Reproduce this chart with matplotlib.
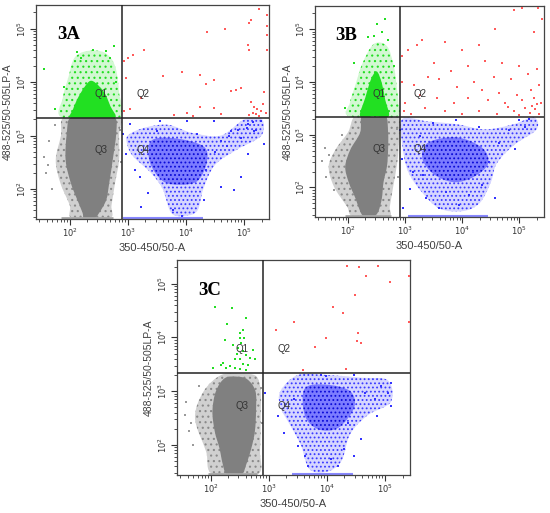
import numpy as np
import matplotlib
matplotlib.use('Agg')
import matplotlib.pyplot as plt
from matplotlib.path import Path
from matplotlib.patches import PathPatch, Rectangle
from matplotlib.ticker import LogLocator, NullFormatter, FixedLocator

plt.rcParams['font.family'] = ['Liberation Sans', 'DejaVu Sans']
plt.rcParams['hatch.linewidth'] = 0.8

# All coordinates below are log10 of the channel values.
# x: 350-450/50-A, y: 488-525/50-505LP-A
X_LIM = (1.42, 5.43)
Y_LIM = (1.44, 5.44)
GATE_X = 2.90
GATE_Y = 3.33

# ---------------- panel 3A ----------------
a_gray_core = [(2.02, 3.34), (2.40, 3.34), (2.77, 3.34), (2.80, 3.04), (2.74, 2.54),
               (2.68, 2.11), (2.63, 1.80), (2.51, 1.56), (2.42, 1.45), (2.25, 1.45),
               (2.22, 1.56), (2.13, 1.80), (2.02, 2.11), (1.93, 2.54), (1.95, 3.04)]
a_gray_halo = [(1.90, 3.34), (2.40, 3.34), (2.86, 3.34), (2.85, 3.00), (2.85, 2.54),
               (2.78, 2.11), (2.72, 1.70), (2.68, 1.45), (2.05, 1.45), (2.00, 1.70),
               (1.84, 2.11), (1.76, 2.54), (1.85, 3.00)]
a_gray_dots = [(1.55, 2.60), (1.60, 2.30), (1.65, 2.90), (1.75, 3.20), (1.70, 2.00),
               (2.88, 2.50), (2.86, 3.10), (1.62, 2.45)]
a_gray_floor = (1.85, 2.74)
a_green_core = [(2.02, 3.33), (2.40, 3.33), (2.78, 3.33), (2.70, 3.55), (2.60, 3.80),
                (2.45, 3.98), (2.35, 4.02), (2.25, 3.90), (2.14, 3.70), (2.06, 3.50)]
a_green_halo = [(1.88, 3.33), (2.85, 3.33), (2.85, 3.80), (2.78, 4.30), (2.60, 4.55),
                (2.30, 4.58), (2.08, 4.45), (1.98, 4.10), (1.88, 3.70)]
a_green_dots = [(1.55, 4.24), (2.13, 4.57), (2.77, 4.67), (1.90, 3.90), (2.80, 4.00),
                (2.70, 4.45), (2.20, 4.45), (1.75, 3.50), (2.40, 4.60), (2.62, 4.58)]
a_red_dots = [(5.26, 5.36), (5.40, 5.25), (5.12, 5.16), (5.09, 5.10), (5.40, 5.04),
              (4.68, 4.99), (4.37, 4.94), (5.40, 4.88), (5.06, 4.70), (5.09, 4.60),
              (5.40, 4.60), (3.28, 4.59), (3.09, 4.50), (3.00, 4.44), (2.93, 4.39),
              (3.60, 4.11), (3.93, 4.19), (4.25, 4.13), (4.34, 3.97), (4.48, 4.04),
              (4.77, 3.83), (4.86, 3.85), (4.94, 3.88), (5.35, 3.82), (2.97, 4.07),
              (3.23, 3.70), (3.03, 3.49), (2.93, 3.45), (4.02, 3.43), (4.25, 3.54),
              (4.48, 3.51), (4.60, 3.40), (3.79, 3.39), (4.13, 3.37), (5.12, 3.62),
              (5.18, 3.54), (5.23, 3.49), (5.29, 3.46), (5.15, 3.43), (5.21, 3.40),
              (5.32, 3.59), (5.38, 3.43), (5.09, 3.39), (5.26, 3.37)]
a_blue_halo = [(3.00, 3.00), (3.30, 3.15), (3.70, 3.20), (4.10, 3.05), (4.60, 3.00),
               (5.00, 3.30), (5.30, 3.32), (5.30, 3.00), (4.90, 2.75), (4.50, 2.45),
               (4.30, 2.00), (4.20, 1.60), (4.00, 1.50), (3.75, 1.55), (3.60, 2.00),
               (3.40, 2.30), (3.10, 2.60), (3.00, 2.80)]
a_blue_core = [(3.40, 2.90), (3.80, 2.95), (4.30, 2.80), (4.36, 2.50), (4.20, 2.15),
               (3.90, 2.08), (3.60, 2.15), (3.38, 2.50)]
a_blue_dots = [(2.91, 3.03), (3.03, 3.22), (3.12, 2.35), (3.23, 1.67), (3.35, 1.92),
               (3.50, 3.09), (3.55, 3.28), (3.78, 1.61), (3.93, 1.49), (4.02, 3.28),
               (4.31, 1.80), (4.48, 3.28), (4.60, 2.04), (4.83, 1.98), (4.77, 3.09),
               (5.06, 2.66), (5.29, 3.28), (5.35, 2.85), (4.94, 2.23), (2.97, 2.66),
               (3.21, 2.23), (4.34, 2.35), (5.18, 3.09), (5.06, 3.22), (4.19, 3.03),
               (4.60, 2.90), (4.75, 3.00), (4.90, 3.10), (5.05, 3.15), (5.15, 3.25),
               (5.20, 3.10), (4.95, 2.95), (4.70, 2.80), (4.50, 2.70)]
a_blue_floor = (2.92, 4.30)

# ---------------- panel 3B ----------------
b_gray_core = [(2.24, 3.36), (2.45, 3.36), (2.66, 3.36), (2.70, 3.04), (2.70, 2.72),
               (2.68, 2.40), (2.62, 2.10), (2.59, 1.79), (2.53, 1.55), (2.45, 1.45),
               (2.28, 1.45), (2.21, 1.55), (2.13, 1.79), (2.01, 2.10), (1.95, 2.40),
               (2.04, 2.72), (2.21, 3.04)]
b_gray_halo = [(2.13, 3.36), (2.50, 3.36), (2.88, 3.36), (2.88, 2.72), (2.85, 2.40),
               (2.79, 2.02), (2.73, 1.64), (2.70, 1.45), (2.10, 1.45), (1.98, 1.64),
               (1.75, 2.02), (1.66, 2.40), (1.78, 2.72), (2.00, 3.05)]
b_gray_dots = [(1.55, 2.50), (1.60, 2.75), (1.62, 2.20), (1.75, 1.95), (2.86, 3.10),
               (2.87, 2.20), (1.90, 3.00), (1.66, 2.62)]
b_gray_floor = (1.95, 2.75)
b_green_core = [(2.21, 3.35), (2.45, 3.35), (2.71, 3.35), (2.65, 3.66), (2.59, 3.98),
                (2.50, 4.20), (2.40, 4.05), (2.30, 3.70)]
b_green_halo = [(2.02, 3.35), (2.88, 3.35), (2.88, 3.60), (2.85, 3.92), (2.80, 4.30),
                (2.68, 4.68), (2.45, 4.72), (2.25, 4.35), (2.12, 3.92), (2.03, 3.60)]
b_green_dots = [(2.65, 5.20), (2.50, 5.10), (2.35, 4.85), (2.70, 4.80), (1.95, 3.50),
                (2.80, 4.30), (2.10, 4.35), (2.60, 4.95), (2.45, 4.88)]
b_red_dots = [(5.32, 5.40), (5.05, 5.40), (4.90, 5.36), (5.40, 5.20), (4.58, 5.00),
              (5.25, 4.95), (4.30, 4.70), (4.00, 4.60), (3.70, 4.75), (3.30, 4.80),
              (3.20, 4.70), (3.05, 4.60), (2.95, 4.50), (3.50, 4.35), (3.80, 4.20),
              (4.10, 4.30), (4.40, 4.40), (4.70, 4.35), (5.00, 4.30), (5.30, 4.25),
              (3.40, 4.10), (3.60, 4.05), (4.20, 4.00), (4.55, 4.10), (4.85, 4.05),
              (5.15, 4.15), (2.95, 4.00), (3.15, 3.95), (3.90, 3.90), (4.35, 3.85),
              (4.65, 3.80), (4.95, 3.75), (5.20, 3.85), (5.35, 3.95), (3.00, 3.60),
              (3.25, 3.75), (3.55, 3.70), (3.85, 3.60), (4.10, 3.70), (4.45, 3.65),
              (4.75, 3.60), (5.05, 3.65), (5.25, 3.70), (5.38, 3.60), (2.98, 3.45),
              (3.35, 3.50), (3.70, 3.45), (4.00, 3.40), (4.30, 3.45), (4.60, 3.40),
              (4.90, 3.45), (5.10, 3.50), (5.18, 3.42), (5.28, 3.48), (5.34, 3.40),
              (5.22, 3.55), (5.00, 3.38), (5.30, 3.58), (4.80, 3.52), (3.10, 3.40)]
b_blue_halo = [(2.95, 3.30), (3.40, 3.25), (3.90, 3.20), (4.40, 3.10), (4.90, 3.20),
               (5.25, 3.33), (5.30, 3.10), (4.90, 2.80), (4.60, 2.45), (4.50, 2.10),
               (4.30, 1.70), (4.00, 1.55), (3.60, 1.60), (3.30, 1.90), (3.05, 2.30),
               (2.95, 2.80)]
b_blue_core = [(3.40, 2.85), (3.90, 2.95), (4.35, 2.75), (4.45, 2.45), (4.20, 2.20),
               (3.85, 2.10), (3.50, 2.25), (3.30, 2.55)]
b_blue_dots = [(2.91, 3.09), (2.94, 2.54), (2.96, 1.61), (3.08, 1.98), (3.25, 2.97),
               (3.14, 2.29), (3.37, 1.80), (3.48, 3.22), (3.60, 1.61), (3.72, 1.92),
               (3.89, 3.28), (3.95, 1.67), (4.12, 1.86), (4.29, 3.15), (4.35, 2.04),
               (4.47, 2.48), (4.64, 2.85), (4.81, 3.09), (4.99, 3.28), (5.10, 3.15),
               (5.16, 3.30), (4.93, 2.72), (4.18, 2.29), (3.31, 2.23), (4.58, 1.80)]
b_blue_floor = (3.05, 4.45)

# ---------------- panel 3C ----------------
c_gray_core = [(2.24, 3.24), (2.45, 3.27), (2.63, 3.22), (2.77, 3.00), (2.78, 2.63),
               (2.76, 2.25), (2.70, 1.94), (2.61, 1.63), (2.53, 1.45), (2.28, 1.45),
               (2.21, 1.63), (2.15, 1.94), (2.07, 2.25), (2.03, 2.63), (2.09, 3.00)]
c_gray_halo = [(2.18, 3.30), (2.50, 3.32), (2.78, 3.28), (2.86, 3.00), (2.86, 2.50),
               (2.85, 1.88), (2.80, 1.45), (2.04, 1.45), (1.92, 1.88), (1.73, 2.50),
               (1.88, 3.00)]
c_gray_dots = [(1.55, 2.55), (1.62, 2.25), (1.58, 2.80), (1.70, 2.00), (1.80, 3.10),
               (2.88, 2.40), (2.87, 3.05), (1.66, 2.40)]
c_gray_floor = (1.95, 2.80)
c_green_dots = [(2.07, 4.56), (2.36, 4.54), (2.28, 4.25), (2.61, 4.36), (2.56, 4.14),
                (2.50, 4.08), (2.24, 3.96), (2.50, 3.98), (2.58, 3.98), (2.38, 3.86),
                (2.47, 3.80), (2.73, 3.77), (2.56, 3.74), (2.61, 3.68), (2.67, 3.62),
                (2.41, 3.60), (2.50, 3.59), (2.21, 3.52), (2.33, 3.46), (2.04, 3.44),
                (2.18, 3.49), (2.41, 3.44), (2.50, 3.42), (2.60, 3.40), (2.27, 3.43),
                (2.76, 3.59), (2.53, 3.89), (2.55, 3.50), (2.45, 3.70), (2.65, 3.48)]
c_red_dots = [(4.35, 5.33), (4.56, 5.31), (4.88, 5.33), (4.67, 5.15), (5.08, 5.04),
              (5.41, 5.14), (4.49, 4.79), (4.11, 4.56), (4.27, 4.45), (3.43, 4.28),
              (3.13, 4.13), (4.53, 4.08), (5.41, 4.28), (3.98, 3.99), (4.51, 3.93),
              (4.59, 3.90), (3.80, 3.83), (3.58, 3.40), (4.32, 3.42)]
c_blue_halo = [(3.20, 3.00), (3.50, 3.30), (4.00, 3.30), (4.60, 3.25), (5.05, 3.20),
               (5.10, 2.80), (4.70, 2.55), (4.40, 2.20), (4.25, 1.70), (4.00, 1.50),
               (3.70, 1.55), (3.55, 2.00), (3.35, 2.40), (3.20, 2.70)]
c_blue_core = [(3.62, 3.05), (4.00, 3.12), (4.40, 3.00), (4.47, 2.70), (4.20, 2.32),
               (3.85, 2.29), (3.62, 2.55)]
c_blue_dots = [(2.93, 2.97), (3.16, 2.54), (3.27, 2.23), (3.44, 2.85), (3.50, 1.98),
               (3.62, 1.80), (3.67, 1.61), (3.99, 3.28), (4.07, 1.73), (4.19, 1.61),
               (4.30, 1.92), (4.47, 1.80), (4.59, 2.11), (4.65, 2.97), (4.82, 2.85),
               (4.93, 3.09), (5.05, 2.97), (5.10, 3.15), (5.10, 2.72), (4.87, 2.54),
               (4.36, 2.41), (3.90, 3.30), (4.47, 3.30)]
c_blue_floor = (3.40, 4.45)

PANELS = [
    ('3A', [36, 219, 233, 214],
     a_gray_halo, a_gray_core, a_gray_dots, a_gray_floor,
     a_green_halo, a_green_core, a_green_dots, a_red_dots,
     a_blue_halo, a_blue_core, a_blue_dots, a_blue_floor),
    ('3B', [315, 217, 229, 211],
     b_gray_halo, b_gray_core, b_gray_dots, b_gray_floor,
     b_green_halo, b_green_core, b_green_dots, b_red_dots,
     b_blue_halo, b_blue_core, b_blue_dots, b_blue_floor),
    ('3C', [177, 475, 233, 215],
     c_gray_halo, c_gray_core, c_gray_dots, c_gray_floor,
     None, None, c_green_dots, c_red_dots,
     c_blue_halo, c_blue_core, c_blue_dots, c_blue_floor),
]

W, H = 550, 513
fig = plt.figure(figsize=(W / 100, H / 100), dpi=100)


def pw(pts):
    arr = np.array(pts, dtype=float)
    return 10 ** arr[:, 0], 10 ** arr[:, 1]


def blob_path(pts):
    # closed smooth outline through the read-off points (cubic bezier segments)
    v = np.array(pts, dtype=float)
    n = len(v)
    verts = [v[0]]
    codes = [Path.MOVETO]
    for i in range(n):
        p0, p1, p2, p3 = v[i - 1], v[i], v[(i + 1) % n], v[(i + 2) % n]
        verts += [p1 + (p2 - p0) / 6, p2 - (p3 - p1) / 6, p2]
        codes += [Path.CURVE4] * 3
    verts.append(v[0])
    codes.append(Path.CLOSEPOLY)
    return Path(10 ** np.array(verts), codes)


def quadrant(ax, q):
    x0, x1 = (X_LIM[0], GATE_X) if q in (1, 3) else (GATE_X, X_LIM[1])
    y0, y1 = (GATE_Y, Y_LIM[1]) if q in (1, 2) else (Y_LIM[0], GATE_Y)
    return Rectangle((10 ** x0, 10 ** y0), 10 ** x1 - 10 ** x0,
                     10 ** y1 - 10 ** y0, transform=ax.transData)


def blob(ax, pts, q, face, hatch=None, hatch_color=None, z=1):
    if pts is None:
        return
    clip = quadrant(ax, q)
    p = PathPatch(blob_path(pts), facecolor=face, lw=0, zorder=z)
    ax.add_patch(p)
    p.set_clip_path(clip)
    if hatch:
        h = PathPatch(blob_path(pts), facecolor='none', edgecolor=hatch_color,
                      hatch=hatch, lw=0, zorder=z + 0.1)
        ax.add_patch(h)
        h.set_clip_path(clip)


def dots(ax, pts, color, s=2.5, z=3):
    xs, ys = pw(pts)
    ax.scatter(xs, ys, s=s, c=color, marker='s', linewidths=0, zorder=z)


for (name, box, g_halo, g_core, g_dots, g_floor, gr_halo, gr_core, gr_dots,
     r_dots, b_halo, b_core, b_dots, b_floor) in PANELS:
    left, bottom, w, h = box
    ax = fig.add_axes([left / W, (H - bottom) / H, w / W, h / H])
    ax.set_xscale('log')
    ax.set_yscale('log')
    ax.set_xlim(10 ** X_LIM[0], 10 ** X_LIM[1])
    ax.set_ylim(10 ** Y_LIM[0], 10 ** Y_LIM[1])

    blob(ax, g_halo, 3, '#d0d0d0', hatch='...', hatch_color='#8a8a8a')
    blob(ax, g_core, 3, '#808080', z=2)
    dots(ax, g_dots, '#9a9a9a')
    ax.hlines(10 ** (Y_LIM[0] + 0.02), 10 ** g_floor[0], 10 ** g_floor[1],
              color='#a8a8a8', lw=2, zorder=2)

    blob(ax, gr_halo, 1, '#d2f8d2', hatch='...', hatch_color='#22dd22')
    blob(ax, gr_core, 1, '#22e022', z=2)
    dots(ax, gr_dots, '#22dd22')

    dots(ax, r_dots, '#ff5a5a', s=2)

    blob(ax, b_halo, 4, '#d6d6ff', hatch='....', hatch_color='#3a3aff')
    blob(ax, b_core, 4, '#7c7cff', hatch='....', hatch_color='#0a0ad8', z=2)
    dots(ax, b_dots, '#3333ff')
    ax.hlines(10 ** (Y_LIM[0] + 0.02), 10 ** b_floor[0], 10 ** b_floor[1],
              color='#8888ff', lw=1.5, zorder=2)

    # quadrant gates
    ax.axvline(10 ** GATE_X, color='#222222', lw=1.1, zorder=5)
    ax.axhline(10 ** GATE_Y, color='#222222', lw=1.1, zorder=5)

    for lab, lx, ly in [('Q1', 2.42, 3.78), ('Q2', 3.15, 3.78),
                        ('Q3', 2.42, 2.73), ('Q4', 3.15, 2.73)]:
        ax.text(10 ** lx, 10 ** ly, lab, fontsize=7, color='#333333',
                ha='left', va='center', zorder=6)

    ax.text(0.09, 0.86, name, transform=ax.transAxes, fontsize=13.5,
            fontweight='bold', family='Liberation Serif', ha='left',
            va='center', zorder=6)

    majors = [1e2, 1e3, 1e4, 1e5]
    ax.xaxis.set_major_locator(FixedLocator(majors))
    ax.yaxis.set_major_locator(FixedLocator(majors))
    ax.set_xticklabels(['$10^{%d}$' % k for k in range(2, 6)])
    ax.set_yticklabels(['$10^{%d}$' % k for k in range(2, 6)], rotation=90,
                       va='center')
    ax.xaxis.set_minor_locator(LogLocator(base=10, subs=np.arange(2, 10), numticks=20))
    ax.yaxis.set_minor_locator(LogLocator(base=10, subs=np.arange(2, 10), numticks=20))
    ax.xaxis.set_minor_formatter(NullFormatter())
    ax.yaxis.set_minor_formatter(NullFormatter())
    ax.tick_params(which='major', length=4, width=0.8, color='#333333',
                   labelsize=6, labelcolor='#333333', pad=1.5)
    ax.tick_params(which='minor', length=2.5, width=0.6, color='#333333')
    for sp in ax.spines.values():
        sp.set_color('#444444')
        sp.set_linewidth(0.9)

    ax.set_xlabel('350-450/50-A', fontsize=8, color='#404040', labelpad=3)
    ax.set_ylabel('488-525/50-505LP-A', fontsize=7.5, color='#404040')
    ax.yaxis.set_label_coords(-0.098, 0.5)

fig.savefig('out.png', dpi=100)
